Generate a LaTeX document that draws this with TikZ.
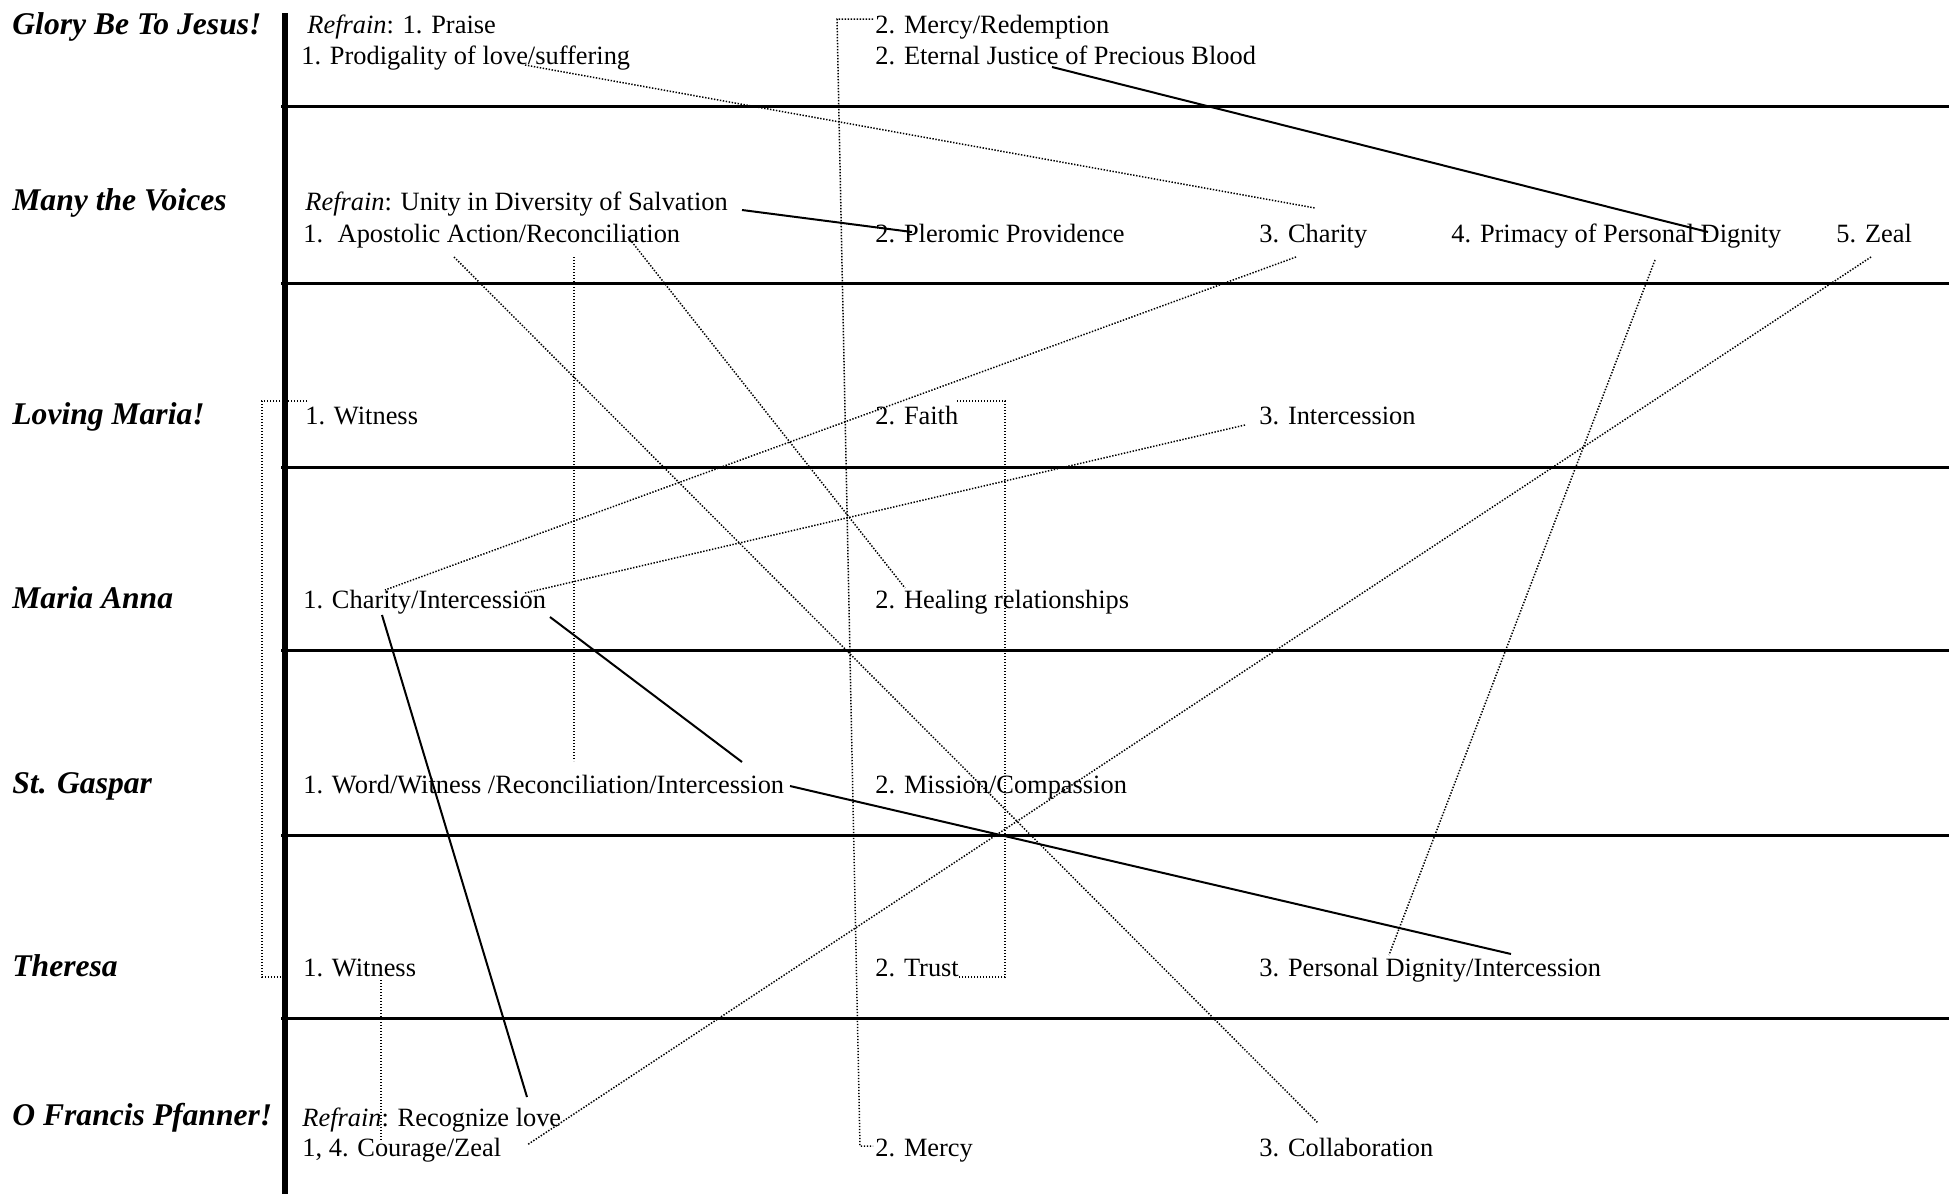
\documentclass[tikz,border=0pt]{standalone}
\usepackage{fontspec}
\setmainfont{Liberation Serif}
\begin{document}
\begin{tikzpicture}[x=0.5pt,y=-0.5pt,
  song/.style={anchor=base west,inner sep=0pt,font=\fontsize{15.8}{18}\selectfont\bfseries\itshape},
  item/.style={anchor=base west,inner sep=0pt,font=\fontsize{13.2}{15}\selectfont},
  rule/.style={line width=1.5pt},
  spine/.style={line width=3pt},
  link/.style={line width=1pt},
  dotlink/.style={line width=0.75pt,dash pattern=on 0.7pt off 0.8pt}]
\useasboundingbox[fill=white] (0,0) rectangle (1949,1194);
% frame lines
\draw[spine] (285,13) -- (285,1194);
\foreach \yy in {106,283,467,650,835,1018}
  \draw[rule] (281,\yy) -- (1949,\yy);
% song titles
\node[song] (s1) at (12,34) {Glory Be To Jesus!};
\node[song] (s2) at (12,210) {Many the Voices};
\node[song] (s3) at (12,424) {Loving Maria!};
\node[song] (s4) at (12,608) {Maria Anna};
\node[song] (s5) at (12,793) {St. Gaspar};
\node[song] (s6) at (12,976) {Theresa};
\node[song] (s7) at (12,1125) {O Francis Pfanner!};
% row 1
\node[item] (r1a) at (307,33) {\textit{Refrain}: 1. Praise};
\node[item] (r1b) at (301,64) {1. Prodigality of love/suffering};
\node[item] (r1c) at (875,33) {2. Mercy/Redemption};
\node[item] (r1d) at (875,64) {2. Eternal Justice of Precious Blood};
% row 2
\node[item] (r2a) at (305,210) {\textit{Refrain}: Unity in Diversity of Salvation};
\node[item] (r2b) at (303,242) {1.\hspace{0.55em}Apostolic Action/Reconciliation};
\node[item] (r2c) at (875,242) {2. Pleromic Providence};
\node[item] (r2d) at (1259,242) {3. Charity};
\node[item] (r2e) at (1451,242) {4. Primacy of Personal Dignity};
\node[item] (r2f) at (1836,242) {5. Zeal};
% row 3
\node[item] (r3a) at (305,424) {1. Witness};
\node[item] (r3b) at (875,424) {2. Faith};
\node[item] (r3c) at (1259,424) {3. Intercession};
% row 4
\node[item] (r4a) at (303,608) {1. Charity/Intercession};
\node[item] (r4b) at (875,608) {2. Healing relationships};
% row 5
\node[item] (r5a) at (303,793) {1. Word/Witness /Reconciliation/Intercession};
\node[item] (r5b) at (875,793) {2. Mission/Compassion};
% row 6
\node[item] (r6a) at (303,976) {1. Witness};
\node[item] (r6b) at (875,976) {2. Trust};
\node[item] (r6c) at (1259,976) {3. Personal Dignity/Intercession};
% row 7
\node[item] (r7a) at (302,1126) {\textit{Refrain}: Recognize love};
\node[item] (r7b) at (302,1156) {1, 4. Courage/Zeal};
\node[item] (r7c) at (875,1156) {2. Mercy};
\node[item] (r7d) at (1259,1156) {3. Collaboration};
% connector end points
\coordinate (p1a) at (525,65);   \coordinate (p1b) at (1315,208);
\coordinate (p2a) at (1052,67);  \coordinate (p2b) at (1708,232);
\coordinate (p3a) at (873,19);   \coordinate (p3b) at (837,19);
\coordinate (p3c) at (860,1146); \coordinate (p3d) at (873,1146);
\coordinate (p4a) at (742,210);  \coordinate (p4b) at (912,232);
\coordinate (p5a) at (454,257);  \coordinate (p5b) at (1318,1123);
\coordinate (p6a) at (574,257);  \coordinate (p6b) at (574,761);
\coordinate (p7a) at (628,237);  \coordinate (p7b) at (905,588);
\coordinate (p8a) at (1296,257); \coordinate (p8b) at (385,590);
\coordinate (p9a) at (1655,260); \coordinate (p9b) at (1389,955);
\coordinate (p10a) at (1871,257); \coordinate (p10b) at (527,1145);
\coordinate (p11a) at (1245,425); \coordinate (p11b) at (525,593);
\coordinate (p12a) at (382,615); \coordinate (p12b) at (527,1097);
\coordinate (p13a) at (550,617); \coordinate (p13b) at (742,762);
\coordinate (p14a) at (790,786); \coordinate (p14b) at (1511,954);
\coordinate (p15a) at (307,401); \coordinate (p15b) at (262,401);
\coordinate (p15c) at (262,977); \coordinate (p15d) at (283,977);
\coordinate (p16a) at (957,401); \coordinate (p16b) at (1005,401);
\coordinate (p16c) at (1005,977); \coordinate (p16d) at (958,977);
\coordinate (p17a) at (381,980); \coordinate (p17b) at (381,1140);
% solid connectors
\draw[link] (p2a) -- (p2b);
\draw[link] (p4a) -- (p4b);
\draw[link] (p12a) -- (p12b);
\draw[link] (p13a) -- (p13b);
\draw[link] (p14a) -- (p14b);
% dotted connectors
\draw[dotlink] (p1a) -- (p1b);
\draw[dotlink] (p3a) -- (p3b) -- (p3c) -- (p3d);
\draw[dotlink] (p5a) -- (p5b);
\draw[dotlink] (p6a) -- (p6b);
\draw[dotlink] (p7a) -- (p7b);
\draw[dotlink] (p8a) -- (p8b);
\draw[dotlink] (p9a) -- (p9b);
\draw[dotlink] (p10a) -- (p10b);
\draw[dotlink] (p11a) -- (p11b);
\draw[dotlink] (p15a) -- (p15b) -- (p15c) -- (p15d);
\draw[dotlink] (p16a) -- (p16b) -- (p16c) -- (p16d);
\draw[dotlink] (p17a) -- (p17b);
\end{tikzpicture}
\end{document}
